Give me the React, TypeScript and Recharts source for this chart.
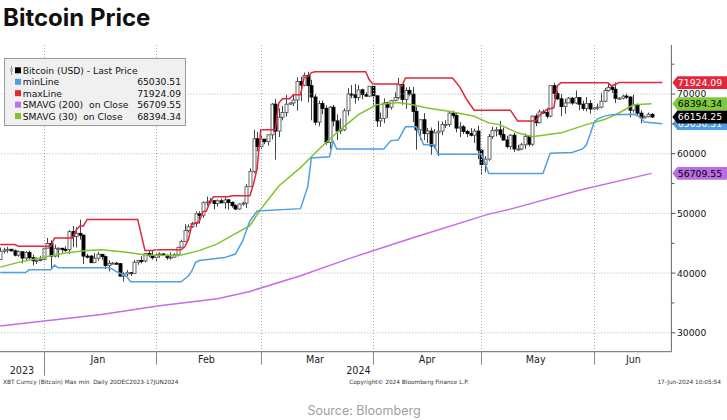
import React from 'react';
import { ComposedChart, Bar, Line, XAxis, YAxis, ReferenceLine } from 'recharts';

// One category per calendar day: index 0 = 20 Dec 2023 ... index 185 = 22 Jun 2024
const dayTotal = 186;

const openPx = [
  42250, 43660, 43870, 43990, 43730, 43010, 43580, 42520, 43440, 42580, 42070, 42140,
  42280, 44180, 44960, 42850, 44160, 44160, 43970, 43930, 46950, 46120, 46660, 46350, 42850, 42840, 41750, 42500, 43150, 42750, 41290, 41620, 41660, 41580, 39500, 39850, 40080, 39950, 41820, 42120, 42030, 43300, 42950,
  42580, 43080, 43200, 42990, 42580, 42660, 43090, 44340, 45290, 47130, 47770, 48300, 49950, 49700, 51800, 51940, 52120, 51660, 52120, 51780, 52260, 51850, 51300, 50740, 51570, 51730, 54480, 57040, 62500,
  61200, 62440, 62030, 63170, 68300, 63800, 66100, 66900, 68300, 68500, 69000, 72100, 71500, 73100, 71400, 69500, 65300, 68400, 67600, 61900, 67800, 65500, 63800, 64000, 67200, 70000, 69900, 69400, 70700, 69900, 69650,
  71300, 69700, 65500, 65900, 68500, 67800, 68900, 69400, 71600, 69100, 70600, 70000, 67100, 64000, 65700, 63400, 63800, 61300, 63500, 63800, 64900, 64900, 66800, 66400, 64300, 64500, 63750, 63400, 63100, 63800,
  60600, 58200, 59100, 62900, 63900, 64000, 63200, 62300, 61200, 63100, 60800, 60800, 61500, 62900, 61600, 66300, 65200, 67000, 66900, 66300, 71400, 70100, 69200, 67900, 68500, 69300, 68500, 69400, 68300, 67600, 68400,
  67500, 67700, 67800, 68800, 70600, 71100, 70800, 69300, 69300, 69650, 69500, 67300, 68200, 66800, 66000, 66200, 66600,
];
const highPx = [
  44280, 44240, 44400, 44000, 43950, 43800, 43600, 43680, 43800, 43120, 42600, 42900,
  44180, 45900, 45500, 44770, 44300, 44220, 44500, 47200, 47900, 47700, 48970, 46500, 43250, 43050, 43350, 43570, 43200, 42930, 42130, 41870, 41870, 41690, 40130, 40500, 40130, 42200, 42200, 42840, 43310, 43870, 43750,
  43280, 43480, 43380, 43120, 43500, 43350, 44370, 45600, 48200, 48170, 48580, 50330, 50370, 52040, 52820, 52570, 52170, 52360, 52480, 52950, 52380, 52000, 51550, 51700, 51960, 54900, 57550, 64000, 63650,
  63200, 62450, 63250, 68500, 69200, 67600, 68000, 69900, 68600, 69900, 72800, 72900, 73600, 73750, 72400, 70000, 68900, 68900, 68100, 68000, 68200, 66600, 65900, 67600, 71000, 71500, 71700, 71500, 70900, 70300, 71300,
  71300, 69700, 66900, 69300, 68700, 69000, 70300, 72700, 71700, 71100, 71200, 71200, 67900, 65700, 66800, 64300, 64400, 64100, 65500, 65400, 65600, 67200, 67200, 67000, 65300, 64800, 64000, 64300, 64200, 64700,
  60800, 59600, 63300, 64500, 64500, 65500, 64400, 63000, 63300, 63500, 61500, 61800, 63400, 63100, 66400, 66700, 67400, 67400, 67700, 71400, 71900, 70600, 70000, 69200, 69500, 69500, 70600, 69500, 68900, 69500, 69000,
  67800, 68400, 70200, 71000, 71700, 71600, 71950, 69500, 69900, 70100, 69600, 69900, 68400, 67300, 66400, 66900, 66800,
];
const lowPx = [
  42200, 43300, 43400, 43600, 42800, 42750, 41650, 42100, 42300, 41300, 41520, 41960,
  42180, 44180, 40750, 42630, 42600, 43400, 43560, 43200, 44350, 44300, 45600, 41500, 42450, 41720, 41720, 42050, 42200, 40680, 40280, 41500, 41450, 39430, 38550, 39500, 39500, 39830, 41400, 41620, 41800, 42680, 42280,
  41880, 42580, 42880, 42220, 42260, 42570, 42780, 44330, 45250, 46800, 47560, 47700, 48300, 49270, 51300, 51620, 50700, 51160, 51700, 50790, 50650, 50970, 50550, 50600, 51290, 50900, 54450, 56700, 60400,
  60800, 61600, 61350, 62400, 59000, 62800, 65600, 66200, 68200, 68000, 67200, 68800, 71300, 68600, 65600, 64800, 64600, 66600, 61500, 60800, 64600, 62300, 63300, 63800, 66400, 69300, 68400, 68900, 69100, 69600, 69550,
  68200, 64500, 64500, 65100, 66000, 67400, 68800, 69100, 68200, 67500, 69600, 65300, 60700, 62300, 62300, 61800, 59800, 60900, 59600, 63100, 64300, 64500, 65900, 63600, 62800, 63300, 62800, 62900, 61800, 59100,
  56500, 56900, 58800, 62500, 62900, 62700, 62200, 60900, 60700, 60300, 60500, 60600, 60800, 61200, 61300, 64600, 65100, 66700, 65900, 66100, 69200, 69000, 66300, 66700, 68500, 68200, 68300, 67300, 67200, 67100, 66700,
  67400, 67300, 67600, 68600, 70400, 70200, 68500, 69100, 69100, 69200, 66100, 66900, 66300, 65100, 65900, 66100, 66000,
];
const closePx = [
  43660, 43870, 43990, 43730, 43010, 43580, 42520, 43440, 42580, 42070, 42140, 42280,
  44180, 44960, 42850, 44160, 44160, 43970, 43930, 46950, 46120, 46660, 46350, 42850, 42840, 41750, 42500, 43150, 42750, 41290, 41620, 41660, 41580, 39500, 39850, 40080, 39950, 41820, 42120, 42030, 43300, 42950, 42580,
  43080, 43200, 42990, 42580, 42660, 43090, 44340, 45290, 47130, 47770, 48300, 49950, 49700, 51800, 51940, 52120, 51660, 52120, 51780, 52260, 51850, 51300, 50740, 51570, 51730, 54480, 57040, 62500, 61200,
  62440, 62030, 63170, 68300, 63800, 66100, 66900, 68300, 68500, 69000, 72100, 71500, 73100, 71400, 69500, 65300, 68400, 67600, 61900, 67800, 65500, 63800, 64000, 67200, 70000, 69900, 69400, 70700, 69900, 69650, 71300,
  69700, 65500, 65900, 68500, 67800, 68900, 69400, 71600, 69100, 70600, 70000, 67100, 64000, 65700, 63400, 63800, 61300, 63500, 63800, 64900, 64900, 66800, 66400, 64300, 64500, 63750, 63400, 63100, 63800, 60600,
  58200, 59100, 62900, 63900, 64000, 63200, 62300, 61200, 63100, 60800, 60800, 61500, 62900, 61600, 66300, 65200, 67000, 66900, 66300, 71400, 70100, 69200, 67900, 68500, 69300, 68500, 69400, 68300, 67600, 68400, 67500,
  67700, 67800, 68800, 70600, 71100, 70800, 69300, 69300, 69650, 69500, 67300, 68200, 66800, 66000, 66200, 66600, 66154,
];

// Study lines, read at their corners as [day index, value]
const maxLinePts = [
  [0, 44800], [4, 44800], [5, 44500], [14, 44500], [15, 45900], [20, 45900], [21, 47200], [22, 47900], [23, 47900], [24, 49000],
  [38, 49000], [39, 46400], [40, 43800], [42, 43800], [43, 43900], [50, 43900], [51, 44400], [52, 45600], [53, 48200], [55, 48600],
  [56, 50300], [57, 50400], [58, 52000], [59, 52800], [63, 52800], [64, 52950], [69, 52950], [70, 54900], [71, 57550], [72, 64000],
  [76, 64000], [77, 68500], [78, 69200], [80, 69200], [81, 69900], [83, 69900], [84, 72800], [85, 72900], [86, 73600], [87, 73750],
  [101, 73750], [102, 72400], [103, 71700], [110, 71700], [111, 71300], [112, 72700], [125, 72700], [127, 71200], [129, 69000], [131, 67300],
  [141, 67300], [143, 65500], [148, 65500], [149, 66400], [151, 67400], [153, 67700], [154, 71400], [155, 71900], [168, 71900], [169, 71300],
  [171, 71924], [183, 71924],
];
const minLinePts = [
  [0, 40100], [7, 40100], [8, 40550], [14, 40550], [15, 41350], [16, 40900], [30, 40900], [31, 40680], [32, 40280], [35, 39430],
  [36, 38550], [50, 38550], [52, 39500], [53, 40400], [54, 41800], [55, 42100], [62, 42600], [65, 43200], [67, 45400], [68, 47100],
  [69, 48700], [71, 50400], [83, 50800], [85, 54500], [86, 59300], [91, 59500], [92, 62100], [93, 60800], [106, 60800], [108, 62200],
  [110, 62300], [112, 64500], [115, 64500], [117, 61500], [120, 61500], [121, 59900], [133, 59900], [134, 58500], [135, 56700], [150, 56700],
  [152, 60100], [158, 60200], [161, 60800], [162, 61500], [163, 63200], [164, 65000], [165, 65800], [167, 66300], [169, 66550], [175, 66600],
  [176, 66400], [177, 66100], [178, 65300], [183, 65030],
];
const sma30Pts = [
  [0, 41000], [5, 41800], [12, 42650], [18, 43380], [24, 43770], [28, 43930], [35, 43500], [40, 43050], [46, 42930], [50, 43050],
  [55, 43770], [60, 44900], [64, 46270], [69, 47930], [72, 50700], [77, 54600], [83, 57670], [88, 60700], [94, 64050], [99, 66550],
  [104, 68200], [110, 68600], [114, 68220], [118, 67670], [124, 67100], [131, 66270], [135, 65170], [138, 64880], [143, 63500], [147, 62830],
  [155, 63500], [162, 64880], [167, 65720], [171, 66830], [175, 68200], [180, 68394],
];
const sma200Pts = [
  [0, 31150], [28, 33050], [44, 34550], [60, 35720], [69, 36930], [83, 39550], [97, 42550], [113, 45720], [135, 49880], [141, 50720],
  [160, 53880], [180, 56710],
];

const lastPrice = 66154.25;
const lastMin = 65030.51;
const lastMax = 71924.09;
const lastSma200 = 56709.55;
const lastSma30 = 68394.34;

const yMajorTicks = [30000, 40000, 50000, 60000, 70000];
const yMinorTicks = [35000, 45000, 55000, 65000, 75000];
const monthStartTicks = [12, 43, 72, 103, 133, 164];
const monthLabelTicks = [27, 57, 87, 118, 148, 175];
const monthLabels = ['Jan', 'Feb', 'Mar', 'Apr', 'May', 'Jun'];
const yearLabelTicks = [6, 99];
const yearLabels = ['2023', '2024'];
const yearStartTick = 12;

const C_MIN = '#4f9fe2';
const C_MAX = '#e3263a';
const C_S200 = '#c26ee6';
const C_S30 = '#7cc52c';
const FONT = 'DejaVu Sans';
const PLOT_TOP = 45;

type Row = { i: number; o?: number; h?: number; l?: number; c?: number; mx?: number; mn?: number; s30?: number; s200?: number };
const rows: Row[] = Array.from({ length: dayTotal }, (_, i) => ({ i, o: openPx[i], h: highPx[i], l: lowPx[i], c: closePx[i] }));
const put = (pts: number[][], key: 'mx' | 'mn' | 's30' | 's200') => pts.forEach(([i, v]) => { rows[i][key] = v; });
put(maxLinePts, 'mx');
put(minLinePts, 'mn');
put(sma30Pts, 's30');
put(sma200Pts, 's200');

const Candle = (p: any) => {
  const { x, y, width, height, payload } = p;
  if (!payload || payload.h == null || !isFinite(y) || !isFinite(height)) return <g />;
  const { o, h, l, c } = payload;
  const top = Math.min(y, y + height);
  const hh = Math.abs(height);
  const k = h > l ? hh / (h - l) : 0;
  const yO = top + (h - o) * k;
  const yC = top + (h - c) * k;
  const bTop = Math.min(yO, yC);
  const bH = Math.max(Math.abs(yO - yC), 1);
  const up = c >= o;
  const px = Math.round(x + width / 2) + 0.5;
  return (
    <g>
      <line x1={px} x2={px} y1={top} y2={top + hh} stroke="#444" strokeWidth={1} />
      <rect x={px - 1.5} y={bTop} width={3} height={bH} fill={up ? '#ffffff' : '#000000'} stroke={up ? '#555' : '#000'} strokeWidth={0.9} />
    </g>
  );
};

const XTick = (p: any) => {
  const { x, y, payload } = p;
  const v = payload.value;
  if (monthStartTicks.includes(v)) {
    const gx = Math.round(x) + 0.5;
    return (
      <g>
        <line x1={gx} x2={gx} y1={PLOT_TOP} y2={y} stroke="#a8a8a8" strokeWidth={1} strokeDasharray="1 2" />
        <line x1={gx} x2={gx} y1={y} y2={y + (v === yearStartTick ? 24 : 13)} stroke="#888" strokeWidth={1} />
      </g>
    );
  }
  const li = monthLabelTicks.indexOf(v);
  if (li >= 0) {
    return <text x={x} y={y + 10.8} textAnchor="middle" fontFamily={FONT} fontSize={9.6} fill="#222">{monthLabels[li]}</text>;
  }
  const yi = yearLabelTicks.indexOf(v);
  if (yi >= 0) {
    return <text x={x} y={y + 22.5} textAnchor="middle" fontFamily={FONT} fontSize={9.6} fill="#222">{yearLabels[yi]}</text>;
  }
  return <g />;
};

const YTick = (p: any) => {
  const { x, y, payload } = p;
  const major = yMajorTicks.includes(payload.value);
  return (
    <g>
      <line x1={x} x2={x + (major ? 4 : 3)} y1={y} y2={y} stroke="#555" strokeWidth={1} />
      {major && (
        <text x={x + 5.6} y={y + 3.4} fontFamily={FONT} fontSize={9.2} fill="#111">{payload.value}</text>
      )}
    </g>
  );
};

const Tag = ({ vb, value, fill, color }: any) => {
  if (!vb) return <g />;
  const xr = vb.x + vb.width;
  const yc = vb.y;
  return (
    <g>
      <polygon
        points={`${xr + 1},${yc} ${xr + 6},${yc - 6.4} ${xr + 60},${yc - 6.4} ${xr + 60},${yc + 6.4} ${xr + 6},${yc + 6.4}`}
        fill={fill}
      />
      <text x={xr + 6.4} y={yc + 3.4} fontFamily={FONT} fontSize={9.3} fill={color}>{value.toFixed(2)}</text>
    </g>
  );
};

const tagLine = (value: number, fill: string, color: string) => (
  <ReferenceLine
    key={`tag-${value}`}
    y={value}
    stroke="none"
    label={(lp: any) => <Tag vb={lp.viewBox} value={value} fill={fill} color={color} />}
  />
);

const legendRows = [
  { name: 'Bitcoin (USD) - Last Price', color: '#000', value: '' },
  { name: 'minLine', color: C_MIN, value: lastMin.toFixed(2) },
  { name: 'maxLine', color: C_MAX, value: lastMax.toFixed(2) },
  { name: 'SMAVG (200)  on Close', color: C_S200, value: lastSma200.toFixed(2) },
  { name: 'SMAVG (30)  on Close', color: C_S30, value: lastSma30.toFixed(2) },
];

export default function App() {
  const grid = { stroke: '#b4b4b4', strokeDasharray: '1 2', strokeWidth: 1 };
  return (
    <div style={{ position: 'absolute', left: 0, top: 0, width: 727, height: 420, overflow: 'hidden', background: '#fff' }}>
      <div style={{ position: 'absolute', left: -20, top: 0 }}>
        <ComposedChart width={747} height={420} data={rows} margin={{ top: PLOT_TOP, right: 0.6, bottom: 38.3, left: 18.4 }}>
          <XAxis
            dataKey="i"
            type="category"
            height={30}
            ticks={[...monthStartTicks, ...monthLabelTicks, ...yearLabelTicks].sort((a, b) => a - b)}
            interval={0}
            tickSize={0}
            tickMargin={0}
            tickLine={false}
            tick={(p: any) => <XTick {...p} />}
            axisLine={{ stroke: '#666', strokeWidth: 1 }}
          />
          <YAxis
            orientation="right"
            width={55}
            type="number"
            domain={[26833, 78217]}
            allowDataOverflow
            ticks={[...yMajorTicks, ...yMinorTicks].sort((a, b) => a - b)}
            interval={0}
            tickSize={0}
            tickMargin={0}
            tickLine={false}
            tick={(p: any) => <YTick {...p} />}
            axisLine={{ stroke: '#666', strokeWidth: 1 }}
          />
          {yMajorTicks.map((t) => (
            <ReferenceLine key={`h${t}`} y={t} {...grid} />
          ))}
          <Line type="linear" dataKey="s200" stroke={C_S200} strokeWidth={1.5} dot={false} connectNulls isAnimationActive={false} />
          <Line type="linear" dataKey="s30" stroke={C_S30} strokeWidth={1.5} dot={false} connectNulls isAnimationActive={false} />
          <Line type="linear" dataKey="mn" stroke={C_MIN} strokeWidth={1.5} dot={false} connectNulls isAnimationActive={false} />
          <Line type="linear" dataKey="mx" stroke={C_MAX} strokeWidth={1.5} dot={false} connectNulls isAnimationActive={false} />
          <Bar
            dataKey={(r: Row) => (r.h == null ? null : [r.l, r.h])}
            shape={(p: any) => <Candle {...p} />}
            isAnimationActive={false}
          />
          {tagLine(lastMin, C_MIN, '#fff')}
          {tagLine(lastPrice, '#000', '#fff')}
          {tagLine(lastSma30, '#7fc93c', '#000')}
          {tagLine(lastMax, C_MAX, '#fff')}
          {tagLine(lastSma200, '#b86de0', '#000')}
        </ComposedChart>
      </div>
      <svg width={727} height={420} style={{ position: 'absolute', left: 0, top: 0, pointerEvents: 'none' }}>
        <text x={3} y={26} fontFamily="Inter" fontWeight={700} fontSize={24} fill="#111">Bitcoin Price</text>
        <rect x={4.5} y={58.5} width={181} height={67} fill="#f0f0f0" stroke="#9c9c9c" strokeWidth={1} />
        <line x1={11.5} x2={11.5} y1={66} y2={75} stroke="#999" strokeWidth={1} />
        <rect x={10} y={68} width={3} height={4} fill="#bbb" />
        {legendRows.map((r, k) => {
          const cy = 70.3 + k * 11.45;
          return (
            <g key={r.name}>
              <rect x={15} y={cy - 3} width={6} height={6} fill={r.color} />
              <text x={22.7} y={cy + 3.4} fontFamily={FONT} fontSize={9.2} fill="#111" style={{ whiteSpace: 'pre' }}>{r.name}</text>
              {r.value && (
                <text x={181} y={cy + 3.4} textAnchor="end" fontFamily={FONT} fontSize={9.2} fill="#111">{r.value}</text>
              )}
            </g>
          );
        })}
        <text x={3} y={383.5} fontFamily={FONT} fontSize={5.8} fill="#333" style={{ whiteSpace: 'pre' }}>XBT Curncy (Bitcoin) Max min  Daily 20DEC2023-17JUN2024</text>
        <text x={409} y={383.5} textAnchor="middle" fontFamily={FONT} fontSize={5.8} fill="#333">Copyright© 2024 Bloomberg Finance L.P.</text>
        <text x={721} y={383.5} textAnchor="end" fontFamily={FONT} fontSize={5.8} fill="#333">17-Jun-2024 10:05:54</text>
        <text x={364} y={414.5} textAnchor="middle" fontFamily="Inter" fontSize={12.5} fill="#a0a0a0">Source: Bloomberg</text>
      </svg>
    </div>
  );
}
